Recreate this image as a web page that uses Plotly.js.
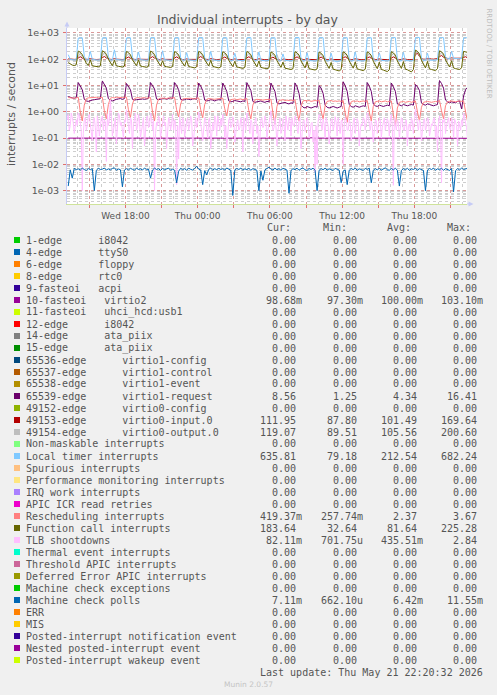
<!DOCTYPE html>
<html><head><meta charset="utf-8">
<script src="https://cdn.plot.ly/plotly-3.0.1.min.js"></script>
<style>html,body{margin:0;padding:0;background:#f0f0f0;}#chart{width:497px;height:695px;}</style>
</head><body><div id="chart"></div>
<script>
// ---- time base ----
const START_TIME = Date.UTC(2026, 4, 20, 13, 15, 0);   // 10-minute samples
const STEP_MIN = 10;
const TLB_START_TIME = Date.UTC(2026, 4, 20, 13, 10, 0); // 5-minute samples
const TLB_STEP_MIN = 5;
const X_RANGE = ['2026-05-20 13:08:50', '2026-05-21 22:22:00'];

// ---- tick labels ----
const xTickVals = ['2026-05-20 15:00','2026-05-20 18:00','2026-05-20 21:00','2026-05-21 00:00','2026-05-21 03:00','2026-05-21 06:00','2026-05-21 09:00','2026-05-21 12:00','2026-05-21 15:00','2026-05-21 18:00','2026-05-21 21:00'];
const xTickText = ['','Wed 18:00','','Thu 00:00','','Thu 06:00','','Thu 12:00','','Thu 18:00',''];
const yTickVals = [1e-3, 1e-2, 1e-1, 1, 10, 100, 1000];
const yTickText = ['1e-03','1e-02','1e-01','1e+00','1e+01','1e+02','1e+03'];

// ---- series values ----
const virtio2 = [
0.1,0.0995,0.1004,0.0998,0.1002,
0.1001,0.0997,0.1003,0.0999,0.1005,0.0996,0.1,0.1002,0.0998,0.1004,0.0999,0.1001,
0.0998,0.1002,0.0999,0.1003,0.0997,0.1001,0.1004,0.0998,0.1,0.1002,0.0996,0.1001,
0.1003,0.0999,0.1001,0.0997,0.1002,0.1,0.0998,0.1003,0.0999,0.1001,0.1004,0.0997,
0.1,0.1002,0.0998,0.1001,0.0999,0.1003,0.0997,0.1,0.1002,0.0998,0.1001,0.1005,
0.0999,0.1001,0.0997,0.1003,0.1,0.0998,0.1002,0.0999,0.1004,0.0996,0.1001,0.1,
0.1002,0.0998,0.1,0.1003,0.0997,0.1001,0.0999,0.1002,0.0998,0.1004,0.1,0.0997,
0.1001,0.0999,0.1003,0.0998,0.1,0.1002,0.0996,0.1001,0.0999,0.1003,0.0998,0.1,
0.0998,0.1002,0.1,0.0997,0.1003,0.0999,0.1001,0.1004,0.0998,0.1,0.1002,0.0999,
0.1001,0.0997,0.1002,0.1,0.0999,0.1003,0.0998,0.1001,0.0973,0.1002,0.0999,0.1001,
0.1,0.1003,0.0998,0.1001,0.0997,0.1002,0.1,0.0999,0.1031,0.0998,0.1002,0.1,
0.0999,0.1001,0.1003,0.0997,0.1,0.1002,0.0998,0.1001,0.0999,0.1003,0.1,0.0998,
0.1002,0.0999,0.1001,0.1,0.0997,0.1003,0.0999,0.1001,0.1002,0.0998,0.1,0.1003,
0.1,0.0998,0.1002,0.0999,0.1001,0.1004,0.0997,0.1,0.1002,0.0999,0.1001,0.0998,
0.1001,0.1003,0.0998,0.1,0.0999,0.1002,0.1001,0.0997,0.1003,0.1,0.0998,0.1002,
0.0999,0.1,0.1002,0.0998,0.1003,0.0999,0.1001,0.1,0.0997,0.1002,0.0999,0.1001,
0.1002,0.0998,0.1001,0.0999,0.1003,0.1,0.0997,0.1002,0.0999,0.1001,0.1,0.0998,
0.1,0.0993,0.09868
];
const virtio1Request = [
3.8,3.5,3.4,3.3,3.5,
13,10,7,3.0,2.6,2.5,2.7,2.8,2.9,3.0,3.1,3.2,
15,11,8,3.2,2.7,2.6,2.9,3.0,3.1,3.2,3.0,3.2,
12,9.5,7,3.0,2.8,2.9,3.0,3.2,3.1,3.0,3.1,3.3,
13,10,7.5,3.1,2.9,3.0,3.1,3.3,3.0,3.2,3.4,3.2,
13,10,7,3.0,2.8,2.9,3.1,3.0,2.9,3.1,3.2,3.0,
12.5,9.5,6.5,2.8,2.6,2.7,2.9,2.8,2.6,2.8,2.9,2.8,
12.5,9,6,2.6,2.4,2.5,2.7,2.6,2.5,2.4,2.6,2.5,
13,9.5,6.5,2.5,2.3,2.4,2.5,2.6,2.4,2.3,2.5,2.4,
12.5,9,6,2.2,2.0,2.1,2.2,2.3,2.1,2.0,2.2,2.1,
12.5,9,5,1.8,1.5,1.4,1.6,1.5,1.4,1.5,1.6,1.5,
10,8,5,1.8,1.5,1.4,1.5,1.6,1.5,1.4,1.5,1.6,
14,10,6,1.9,1.6,1.5,1.7,1.6,1.5,1.6,1.7,1.6,
13,9.5,6,2.0,1.7,1.6,1.8,1.7,1.6,1.7,1.8,1.7,
12.5,9,6,2.0,1.8,1.7,1.9,1.8,1.7,1.8,1.9,1.8,
11,9,6.5,2.2,1.9,1.8,2.0,1.9,1.8,1.7,1.8,1.9,
15.5,12,8,2.8,2.4,2.2,2.4,2.3,2.2,2.5,2.6,1.3,
4,7,8.56
];
const virtio0Input = [
104,101,100,99,100,
112,125,110,101,100,99,105,100,99,98,99,100,
115,128,112,102,100,98,106,101,99,97,98,100,
110,122,108,100,99,98,104,100,98,97,99,100,
113,126,111,101,99,97,105,99,98,96,98,99,
111,124,109,100,98,97,103,99,98,97,98,99,
114,127,112,101,99,98,106,100,99,97,98,100,
110,122,108,100,98,96,103,98,97,96,97,98,
112,125,110,100,98,97,104,99,97,96,97,99,
109,121,107,99,97,88,102,98,97,96,97,98,
111,124,109,100,98,96,104,99,97,96,97,98,
110,122,108,99,97,96,103,98,97,95,97,98,
112,125,110,100,98,97,104,99,98,96,97,99,
111,123,109,100,98,96,103,99,97,96,97,98,
112,124,110,100,98,97,104,99,98,97,98,99,
150,169,130,104,101,100,108,103,102,101,103,106,
125,140,120,110,108,107,113,109,108,107,108,110,
118,125,112
];
const virtio0Output = [
98,95,94,93,94,
130,170,120,96,94,93,99,94,93,92,93,94,
135,180,125,96,94,92,100,93,92,91,92,94,
128,165,118,95,93,92,98,93,92,91,92,93,
132,175,122,95,93,91,99,93,91,90,91,93,
130,168,120,95,93,92,98,93,92,91,92,93,
133,178,123,95,93,92,99,93,92,91,92,93,
128,165,118,94,92,91,97,92,91,90,91,92,
130,170,120,94,92,91,98,92,91,90,91,92,
126,160,116,150,92,90,96,91,90,89.5,90,91,
130,168,119,94,92,90,97,92,90,90,91,92,
128,164,117,93,91,90,96,91,90,89.5,90,91,
131,170,120,94,92,91,98,92,91,90,91,92,
129,166,118,94,92,90,97,92,90,90,91,92,
131,172,121,94,92,91,98,92,91,90,91,93,
160,200.6,140,100,97,95,102,97,96,95,97,100,
140,185,130,108,105,104,110,106,105,104,105,107,
130,160,119
];
const localTimer = [
150,100,96,94,95,
640,670,660,130,96,94,200,100,95,94,94,96,
650,672,665,125,95,93,230,98,95,93,94,95,
645,668,660,120,94,93,190,97,94,92,93,94,
650,675,662,118,93,92,210,96,93,91,92,93,
648,670,660,115,92,91,180,95,92,90,91,92,
652,676,664,112,91,90,200,94,91,89,90,91,
645,668,658,110,90,89,170,93,90,88,89,90,
650,672,662,108,90,88,190,92,89,88,89,90,
648,670,660,106,88,87,160,90,88,86,87,88,
652,678,665,104,87,86,180,89,87,85,86,87,
646,670,660,102,87,86,170,89,86,80,86,87,
650,674,662,104,88,86,190,90,87,86,87,88,
648,672,660,105,88,87,175,90,88,86,87,88,
652,676,664,104,87,86,185,89,87,86,87,89,
650,682,668,110,90,88,170,92,90,89,92,97,
648,674,662,125,105,102,200,110,106,104,105,108,
640,670,636
];
const rescheduling = [
3.5,3.4,3.5,3.3,3.4,
3.6,1.0,0.45,1.8,3.2,3.4,3.5,3.4,3.5,3.6,3.4,3.5,
3.6,1.1,0.54,1.9,3.3,3.5,3.4,3.6,3.5,3.4,3.5,3.6,
3.6,1.2,0.6,2.0,3.2,3.4,3.5,3.3,3.4,3.5,3.3,3.4,
3.5,1.0,0.45,1.8,3.1,3.3,3.4,3.3,3.2,3.4,3.3,3.4,
3.5,1.2,0.64,2.0,3.1,3.2,3.3,3.2,3.3,3.2,3.1,3.3,
3.4,1.2,0.6,1.9,3.0,3.2,3.1,3.2,3.0,3.1,3.2,3.1,
3.3,1.3,0.7,2.0,2.9,3.0,3.1,2.9,3.0,3.1,2.9,3.0,
3.2,1.1,0.54,1.8,2.8,3.0,2.9,3.0,2.8,2.9,3.0,2.9,
3.0,0.9,0.34,1.6,2.7,2.8,2.9,2.7,2.8,2.7,2.8,2.7,
2.9,1.0,0.45,1.6,2.6,2.7,2.6,2.7,2.5,2.6,2.7,2.6,
2.8,1.1,0.54,1.7,2.5,2.6,2.7,2.5,2.6,2.5,2.6,2.5,
2.7,0.9,0.4,1.5,2.4,2.6,2.5,2.6,2.4,2.5,2.6,2.5,
2.7,1.0,0.45,1.6,2.4,2.5,2.6,2.4,2.5,2.6,2.4,2.5,
2.6,0.8,0.29,1.4,2.3,2.4,2.5,2.3,2.4,2.5,2.3,2.4,
2.6,1.0,0.45,1.5,2.3,2.4,2.5,2.4,2.3,2.4,2.5,2.4,
2.7,1.1,0.54,1.7,2.4,2.5,2.6,2.5,2.4,2.5,2.6,2.5,
2.6,1.0,0.42
];
const functionCall = [
75,65,60,58,62,
205,185,150,95,70,58,95,56,55,53,52,56,
210,190,155,100,72,57,92,56,54,52,51,55,
200,180,148,95,70,57,95,55,53,51,50,54,
205,185,152,98,71,56,88,54,52,50,49,53,
198,178,146,92,68,55,90,53,51,49,47,52,
200,182,150,95,70,56,92,54,51,49,47,51,
195,176,145,90,66,53,84,51,49,47,45,49,
198,180,148,92,67,52,86,49,47,45,44,47,
190,172,142,88,63,49,78,46,44,42,41,44,
195,176,145,86,61,47,82,44,42,40,39,43,
188,170,138,84,59,45,76,42,40,37,36,41,
192,174,142,86,60,46,80,43,41,39,37,42,
190,172,140,84,59,44,78,41,39,36,34,40,
195,176,144,86,60,45,82,42,40,37,33,41,
225,200,160,92,64,47,83,43,41,39,37,44,
210,192,158,94,66,51,88,47,44,42,41,47,
200,190,184
];
const tlbShootdowns = [
0.5,0.8,0.2,0.3,0.9,0.6,0.4,0.15,0.25,0.5,
0.3,0.9,0.7,0.4,0.2,0.001,0.15,0.5,0.6,0.2,0.3,0.7,0.8,0.35,0.2,0.08,0.5,0.6,0.25,0.03,0.7,0.4,0.12,0.25,
0.6,0.7,0.2,0.5,0.4,0.013,0.8,0.3,0.5,2.84,0.35,0.12,0.2,0.45,0.6,0.06,0.3,0.9,0.7,0.3,0.4,0.15,0.1,0.5,
0.4,1.2,0.7,0.3,0.15,0.6,0.5,0.04,0.3,0.5,0.9,0.2,0.25,0.8,0.5,0.1,0.2,0.45,0.6,0.05,0.3,0.6,0.7,0.25,
0.3,0.9,0.6,0.2,0.5,0.001,0.15,0.4,0.3,0.7,0.5,0.09,0.2,0.5,0.7,0.3,0.4,0.04,0.15,0.6,0.5,0.2,0.35,0.8,
0.2,0.5,0.4,0.0017,0.3,0.016,0.7,0.35,0.15,0.6,0.5,0.1,0.25,0.45,0.6,0.2,0.3,0.7,0.5,0.05,0.1,0.4,0.6,0.25,
0.4,1.0,0.6,0.3,0.2,0.08,0.3,0.6,0.5,0.15,0.1,0.5,0.6,0.04,0.25,0.4,0.2,0.7,0.5,0.12,0.7,0.3,0.2,0.55,
0.3,0.8,0.5,0.1,0.3,0.04,0.2,0.5,0.6,0.25,0.3,0.65,0.45,0.07,0.15,0.4,0.5,0.2,0.25,0.6,0.4,0.03,0.6,0.35,
0.2,0.9,0.6,0.3,0.15,0.5,0.4,0.06,0.3,0.45,0.6,0.15,0.3,0.02,0.2,0.5,0.6,0.25,0.3,0.7,0.5,0.1,0.2,0.4,
0.5,1.1,0.4,0.2,0.25,0.6,0.3,0.05,0.2,0.4,0.6,0.15,0.2,0.55,0.4,0.08,0.7,0.35,0.2,0.6,0.5,0.12,0.6,0.3,
0.3,0.7,0.5,0.25,0.15,0.5,0.6,0.04,0.2,0.45,0.5,0.18,0.3,0.6,0.45,0.1,0.15,0.35,0.4,0.07,0.2,0.005,0.3,0.01,
0.4,0.8,0.6,0.3,0.2,0.55,0.35,0.1,0.6,0.4,0.3,0.06,0.2,0.5,0.55,0.2,0.3,0.65,0.4,0.12,0.6,0.3,0.15,0.45,
0.5,0.01,0.3,0.6,0.5,0.2,0.2,0.5,0.4,0.08,0.2,0.4,0.6,0.15,0.3,0.55,0.4,0.05,0.2,0.35,0.3,0.6,0.55,0.2,
0.4,0.9,0.6,0.25,0.2,0.45,0.3,0.07,0.25,0.5,0.45,0.15,0.3,0.6,0.5,0.1,0.25,0.4,0.6,0.2,0.3,0.55,0.4,0.12,
0.5,0.8,0.3,0.0016,0.6,0.3,0.2,0.5,0.4,0.1,0.3,0.6,0.5,0.2,0.2,0.45,0.5,0.05,0.3,0.35,0.2,0.6,0.45,0.15,
0.5,1.3,0.6,0.3,0.2,0.5,0.4,0.08,0.3,0.45,0.55,0.2,0.25,0.6,0.5,0.12,0.2,0.35,0.3,0.55,0.6,0.1,0.3,0.03,
0.4,0.7,0.3,0.002,0.5,0.4,0.6,0.15,0.3,0.5,0.6,0.25,0.2,0.6,0.4,0.1,0.55,0.4,0.3,0.05,0.45,0.3,0.2,0.5,
0.3,0.9,0.6,0.4,0.25,0.082
];
const machineCheckPolls = [
0.0015,0.0062,0.003,0.0071,0.0063,
0.0068,0.0061,0.0072,0.0064,0.0059,0.007,0.0063,0.0069,0.001,0.006,0.0071,0.0064,
0.0066,0.0073,0.0061,0.0068,0.0062,0.007,0.0074,0.006,0.0067,0.0063,0.0014,0.0061,
0.0069,0.0062,0.0071,0.0065,0.006,0.0072,0.0064,0.0068,0.0061,0.0073,0.0063,0.0067,
0.003,0.0061,0.0072,0.0064,0.0069,0.0059,0.007,0.0063,0.0068,0.0072,0.006,0.0066,
0.006,0.002,0.0055,0.0071,0.0063,0.0069,0.006,0.0072,0.0065,0.0061,0.007,0.0085,
0.0066,0.0062,0.0017,0.0058,0.004,0.0065,0.0072,0.0061,0.0069,0.0063,0.0071,0.0064,
0.0069,0.0061,0.0073,0.0064,0.006,0.00066,0.0062,0.007,0.0064,0.0072,0.0061,0.0068,
0.0063,0.0071,0.006,0.0069,0.0065,0.006,0.001,0.0056,0.0025,0.0062,0.007,0.0078,
0.0067,0.0061,0.0072,0.0063,0.0069,0.006,0.0071,0.0064,0.0061,0.0008,0.0059,0.0069,
0.0063,0.0072,0.006,0.0068,0.0074,0.0062,0.0059,0.007,0.0064,0.0072,0.006,0.001,
0.006,0.0069,0.0063,0.0072,0.0061,0.0068,0.0064,0.0059,0.0071,0.0065,0.0061,0.002,
0.0056,0.0062,0.0017,0.006,0.007,0.0063,0.0072,0.006,0.0068,0.0064,0.0059,0.0071,
0.0064,0.0072,0.002,0.006,0.0069,0.0062,0.0071,0.0061,0.0067,0.0074,0.0063,0.006,
0.007,0.0062,0.0072,0.006,0.0015,0.0059,0.0069,0.0063,0.0071,0.006,0.0068,0.0064,
0.0072,0.006,0.0069,0.0063,0.0059,0.001,0.0061,0.007,0.0064,0.0072,0.006,0.0068,
0.0063,0.0071,0.006,0.0069,0.0064,0.0059,0.007,0.0009,0.0058,0.0069,0.0062,0.0072,
0.0064,0.0069,0.00711
];

// ---- legend table ----
const legendLabels = [
"1-edge      i8042","4-edge      ttyS0","6-edge      floppy","8-edge      rtc0","9-fasteoi   acpi",
"10-fasteoi   virtio2","11-fasteoi   uhci_hcd:usb1","12-edge      i8042","14-edge      ata_piix","15-edge      ata_piix",
"65536-edge      virtio1-config","65537-edge      virtio1-control","65538-edge      virtio1-event","65539-edge      virtio1-request",
"49152-edge      virtio0-config","49153-edge      virtio0-input.0","49154-edge      virtio0-output.0",
"Non-maskable interrupts","Local timer interrupts","Spurious interrupts","Performance monitoring interrupts",
"IRQ work interrupts","APIC ICR read retries","Rescheduling interrupts","Function call interrupts","TLB shootdowns",
"Thermal event interrupts","Threshold APIC interrupts","Deferred Error APIC interrupts","Machine check exceptions",
"Machine check polls","ERR","MIS","Posted-interrupt notification event","Nested posted-interrupt event","Posted-interrupt wakeup event"];
const legendColors = ['#00CC00','#0066B3','#FF8000','#FFCC00','#330099','#990099','#CCFF00','#FF0000','#808080','#008F00',
'#00487D','#B35A00','#B38F00','#6B006B','#8FB300','#B30000','#BEBEBE','#80FF80','#80C9FF','#FFC080','#FFE680','#AA80FF',
'#EE00CC','#FF8080','#666600','#FFBFFF','#00FFCC','#CC6699','#999900','#00CC00','#0066B3','#FF8000','#FFCC00','#330099','#990099','#CCFF00'];
const Z = '0.00';
const curVals = [Z,Z,Z,Z,Z,'98.68m',Z,Z,Z,Z,Z,Z,Z,'8.56',Z,'111.95','119.07',Z,'635.81',Z,Z,Z,Z,'419.37m','183.64','82.11m',Z,Z,Z,Z,'7.11m',Z,Z,Z,Z,Z];
const minVals = [Z,Z,Z,Z,Z,'97.30m',Z,Z,Z,Z,Z,Z,Z,'1.25',Z,'87.80','89.51',Z,'79.18',Z,Z,Z,Z,'257.74m','32.64','701.75u',Z,Z,Z,Z,'662.10u',Z,Z,Z,Z,Z];
const avgVals = [Z,Z,Z,Z,Z,'100.00m',Z,Z,Z,Z,Z,Z,Z,'4.34',Z,'101.49','105.56',Z,'212.54',Z,Z,Z,Z,'2.37','81.64','435.51m',Z,Z,Z,Z,'6.42m',Z,Z,Z,Z,Z];
const maxVals = [Z,Z,Z,Z,Z,'103.10m',Z,Z,Z,Z,Z,Z,Z,'16.41',Z,'169.64','200.60',Z,'682.24',Z,Z,Z,Z,'3.67','225.28','2.84',Z,Z,Z,Z,'11.55m',Z,Z,Z,Z,Z];
const colHeaders = ['Cur:','Min:','Avg:','Max:'];

// ---- plotted series (drawing order) ----
const plotted = [
  {idx:5, y:virtio2}, {idx:13, y:virtio1Request}, {idx:15, y:virtio0Input}, {idx:16, y:virtio0Output},
  {idx:18, y:localTimer}, {idx:23, y:rescheduling}, {idx:24, y:functionCall},
  {idx:25, y:tlbShootdowns, start:TLB_START_TIME, step:TLB_STEP_MIN},
  {idx:30, y:machineCheckPolls}
];

function fmtTime(ms){const d=new Date(ms);const p=n=>String(n).padStart(2,'0');
  return d.getUTCFullYear()+'-'+p(d.getUTCMonth()+1)+'-'+p(d.getUTCDate())+' '+p(d.getUTCHours())+':'+p(d.getUTCMinutes())+':00';}

const traces = plotted.map(s => {
  const t0 = s.start || START_TIME, st = s.step || STEP_MIN;
  return {
    type:'scatter', mode:'lines', name: legendLabels[s.idx],
    x: s.y.map((_,i)=>fmtTime(t0 + i*st*60000)), y: s.y,
    line:{color: legendColors[s.idx], width:1}, hoverinfo:'skip', showlegend:false
  };
});

// ---- pixel helpers for page furniture ----
const PL=67, PR=467, PT=28, PB=204;
const fx = p => (p-PL)/(PR-PL);
const fy = p => (PB-p)/(PB-PT);
const nb = s => s.replace(/ /g,'\u00A0');
const TXT = '#555555';
const MONO = 'DejaVu Sans Mono, monospace';

const annotations = [];
const shapes = [];
function txt(text, px, py, anchor, size, color, family, extra){
  annotations.push(Object.assign({text: text, x: fx(px), y: fy(py), xref:'paper', yref:'paper',
    xanchor: anchor, yanchor:'middle', showarrow:false, borderpad:0, borderwidth:0,
    font:{family: family || MONO, size: size, color: color || TXT}}, extra||{}));
}
txt('Individual interrupts - by day', 248, 19.5, 'center', 12.5, '#555', 'DejaVu Sans');
txt('interrupts / second', 11, 114, 'center', 11, '#555', 'DejaVu Sans', {textangle:-90});
txt('RRDTOOL / TOBI OETIKER', 488.5, 53, 'center', 7, '#bdbdbd', 'DejaVu Sans', {textangle:90});

const colRight = [295.7, 356.7, 416.7, 476.7];
const headLeft = [266.5, 322.5, 386.5, 446.5];
colHeaders.forEach((h,c)=>txt(h, headLeft[c], 228, 'left', 10));
const cols = [curVals, minVals, avgVals, maxVals];
legendLabels.forEach((lab, r) => {
  const py = 240 + 12*r;
  shapes.push({type:'rect', xref:'paper', yref:'paper', x0:fx(14), x1:fx(20), y0:fy(py+3), y1:fy(py-3),
    fillcolor: legendColors[r], line:{width:0}});
  txt(nb(lab), 26, py, 'left', 10);
  cols.forEach((arr,c)=>{
    const v = arr[r]; const m = /[mu]$/.test(v);
    txt(nb(m ? v : v + ' '), colRight[c] + 6, py, 'right', 10);
  });
});
txt(nb('Last update: Thu May 21 22:20:32 2026'), 482.5, 672, 'right', 10);
txt('Munin 2.0.57', 248, 684, 'center', 7.5, '#c4c4c4', 'DejaVu Sans');

// axis arrows
const AX = '#c6cbf5';
shapes.push({type:'line', xref:'paper', yref:'paper', x0:fx(67), x1:fx(67), y0:fy(PT), y1:fy(24), line:{color:AX, width:1}});
shapes.push({type:'path', xref:'paper', yref:'paper', fillcolor:AX, line:{width:0},
  path:`M ${fx(64.5)} ${fy(26.5)} L ${fx(69.5)} ${fy(26.5)} L ${fx(67)} ${fy(21.5)} Z`});
shapes.push({type:'line', xref:'paper', yref:'paper', x0:fx(PR), x1:fx(470), y0:fy(PB), y1:fy(PB), line:{color:AX, width:1}});
shapes.push({type:'path', xref:'paper', yref:'paper', fillcolor:AX, line:{width:0},
  path:`M ${fx(468.5)} ${fy(201.5)} L ${fx(468.5)} ${fy(206.5)} L ${fx(473.5)} ${fy(204)} Z`});

const MAJ = 'rgba(225,110,110,0.55)';
const MIN = 'rgba(165,165,165,0.55)';
const layout = {
  width:497, height:695, paper_bgcolor:'#f0f0f0', plot_bgcolor:'#ffffff',
  margin:{l:PL, r:497-PR, t:PT, b:695-PB, pad:0},
  showlegend:false, hovermode:false,
  xaxis:{type:'date', range:X_RANGE, tickmode:'array', tickvals:xTickVals, ticktext:xTickText,
    ticks:'outside', ticklen:3, tickcolor:'#e07070', tickwidth:1,
    showgrid:true, gridcolor:MAJ, griddash:'dot', gridwidth:1,
    showline:true, linecolor:'#cfe39a', linewidth:1, zeroline:false,
    tickfont:{family:'DejaVu Sans', size:9, color:TXT},
    minor:{dtick:3600000, tick0:'2026-05-20 00:00', showgrid:true, gridcolor:MIN, griddash:'dot', gridwidth:1}},
  yaxis:{type:'log', range:[-3.506, 3.19], tickmode:'array', tickvals:yTickVals, ticktext:yTickText,
    ticks:'outside', ticklen:3, tickcolor:'#e07070', tickwidth:1, ticklabelstandoff:2,
    showgrid:true, gridcolor:MAJ, griddash:'dot', gridwidth:1,
    showline:true, linecolor:AX, linewidth:1, zeroline:false,
    tickfont:{family:'DejaVu Sans', size:9.5, color:TXT},
    minor:{dtick:'D1', showgrid:true, gridcolor:MIN, griddash:'dot', gridwidth:1}},
  annotations: annotations, shapes: shapes
};
Plotly.newPlot('chart', traces, layout, {staticPlot:true, displayModeBar:false});
</script></body></html>
